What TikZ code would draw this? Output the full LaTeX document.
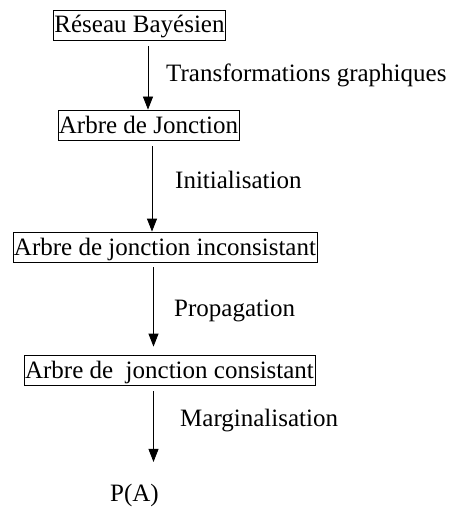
\documentclass[tikz,border=0pt]{standalone}
\usepackage{fontspec}
\setmainfont{Liberation Serif}
\usetikzlibrary{arrows.meta,calc}
\begin{document}
\begin{tikzpicture}[x=1pt,y=-1pt,
  font=\fontsize{25}{30}\selectfont,
  box/.style={draw, line width=0.8pt, inner xsep=1pt, inner ysep=4pt, text height=19pt, text depth=3pt},
  lbl/.style={anchor=base west, inner sep=0pt},
  arr/.style={line width=0.8pt, -{Triangle[length=13pt,width=10pt]}}]
\useasboundingbox (0,0) rectangle (451,508);
\node[box] (b1) at (139.5,25) {Réseau Bayésien};
\node[box] (b2) at (148.5,125) {Arbre de Jonction};
\node[box] (b3) at (165,247) {Arbre de jonction inconsistant};
\node[box] (b4) at (169.5,370) {Arbre de\ \ jonction consistant};
\node[lbl] (pa) at (110,501.5) {P(A)};
\node[lbl] (l1) at (166,82) {Transformations graphiques};
\node[lbl] (l2) at (175,188) {Initialisation};
\node[lbl] (l3) at (174,316) {Propagation};
\node[lbl] (l4) at (180,426.5) {Marginalisation};
\coordinate (s1) at ([xshift=8.5pt,yshift=-6pt]b1.south);
\coordinate (s2) at ([xshift=3.5pt,yshift=-6pt]b2.south);
\coordinate (s3) at ([xshift=-11.5pt,yshift=-5pt]b3.south);
\coordinate (s4) at ([xshift=-16pt,yshift=-6pt]b4.south);
\draw[arr] (s1) -- (s1 |- b2.north);
\draw[arr] (s2) -- (s2 |- b3.north);
\draw[arr] (s3) -- ($(s3 |- b4.north)+(0,-8)$);
\draw[arr] (s4) -- ($(s4 |- pa.north)+(0,-22)$);
\end{tikzpicture}
\end{document}
